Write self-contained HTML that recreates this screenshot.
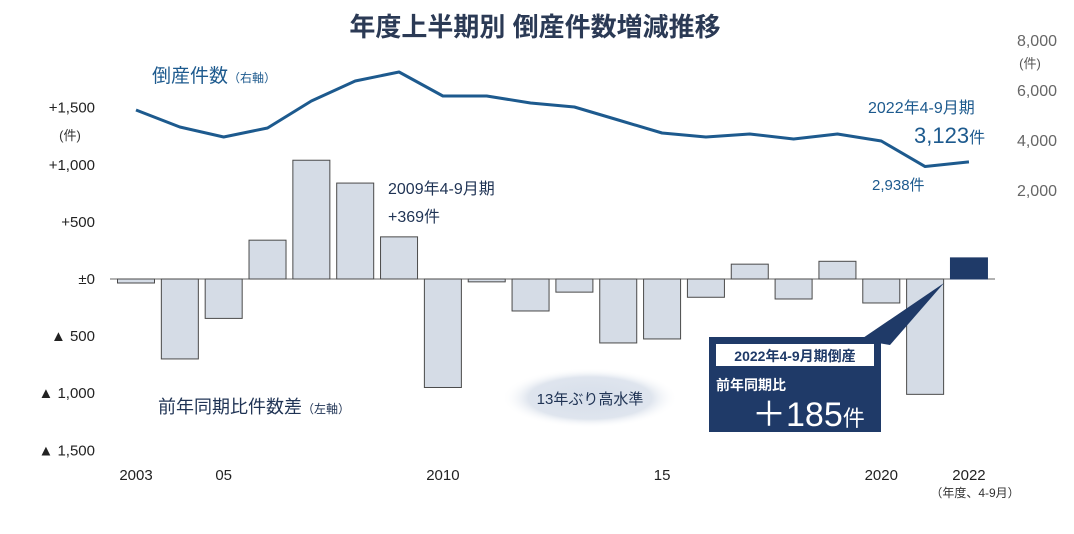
<!DOCTYPE html>
<html><head><meta charset="utf-8">
<style>
body{margin:0;background:#fff;}
svg text{font-family:"Liberation Sans","Noto Sans CJK JP",sans-serif;}
</style></head>
<body>
<svg width="1074" height="529" viewBox="0 0 1074 529" xmlns="http://www.w3.org/2000/svg">
<defs>
<radialGradient id="cloud" cx="50%" cy="50%" r="50%">
<stop offset="0%" stop-color="#d6deea"/><stop offset="70%" stop-color="#dfe5ee"/><stop offset="100%" stop-color="#ffffff" stop-opacity="0"/>
</radialGradient>
</defs>
<text x="535" y="36" text-anchor="middle" font-size="26" font-weight="bold" fill="#2b3a55">年度上半期別  倒産件数増減推移</text>
<g id="leftAxis"></g>
<g id="rightAxis"></g>
<g id="bars"></g>
<g id="line"></g>
<g id="xAxis"></g>
<text x="70" y="140" text-anchor="middle" font-size="13" fill="#333">(件)</text>
<text x="1030" y="68" text-anchor="middle" font-size="13" fill="#555">(件)</text>
<text x="152" y="82" font-size="19" fill="#1d5a8e">倒産件数<tspan font-size="12">（右軸）</tspan></text>
<text x="158" y="413" font-size="18" fill="#1f3354">前年同期比件数差<tspan font-size="12">（左軸）</tspan></text>
<text x="388" y="194" font-size="16" fill="#1f3354">2009年4-9月期</text>
<text x="388" y="222" font-size="16" fill="#1f3354">+369件</text>
<text x="868" y="113" font-size="16" fill="#1d5a8e">2022年4-9月期</text>
<text x="914" y="143" font-size="22" fill="#1d5a8e">3,123<tspan font-size="16">件</tspan></text>
<text x="872" y="190" font-size="15" fill="#1d5a8e">2,938件</text>
<ellipse cx="590" cy="398" rx="88" ry="30" fill="url(#cloud)"/>
<text x="590" y="404" text-anchor="middle" font-size="15" fill="#1f3354">13年ぶり高水準</text>
<polygon points="944,283 860,340 890,345" fill="#1f3a68"/>
<rect x="709" y="337" width="172" height="95" fill="#1f3a68"/>
<rect x="716" y="344" width="158" height="22" fill="#fff"/>
<text x="795" y="361" text-anchor="middle" font-size="14" font-weight="bold" fill="#1f3a68">2022年4-9月期倒産</text>
<text x="716" y="390" font-size="14" font-weight="bold" fill="#fff">前年同期比</text>
<text x="752" y="426" font-size="34" fill="#fff">＋185<tspan font-size="22">件</tspan></text>
<text x="975" y="497" text-anchor="middle" font-size="12" fill="#333">（年度、4-9月）</text>
<script>
const years=[2003,2004,2005,2006,2007,2008,2009,2010,2011,2012,2013,2014,2015,2016,2017,2018,2019,2020,2021,2022];
const diffs=[-35,-700,-345,340,1040,840,369,-950,-25,-280,-115,-560,-525,-160,130,-175,155,-210,-1010,185];
const counts=[5200,4520,4120,4480,5560,6360,6720,5760,5760,5480,5320,4800,4280,4120,4240,4040,4240,3960,2938,3123];
const leftTicks=[1500,1000,500,0,-500,-1000,-1500];
const leftTickLabels=["+1,500","+1,000","+500","±0","▲ 500","▲ 1,000","▲ 1,500"];
const rightTicks=[8000,6000,4000,2000];
const rightTickLabels=["8,000","6,000","4,000","2,000"];
const xLabelYears=[2003,2005,2010,2015,2020,2022];
const xLabels=["2003","05","2010","15","2020","2022"];
const NS="http://www.w3.org/2000/svg";
function X(i){return 136+i*43.84;}
function yL(v){return 279-v*0.1142;}
function yR(v){return 240-v*0.025;}
function mk(t,a,p,txt){const e=document.createElementNS(NS,t);for(const k in a)e.setAttribute(k,a[k]);if(txt!==undefined)e.textContent=txt;p.appendChild(e);return e;}
const bars=document.getElementById('bars');
mk('line',{x1:110,x2:995,y1:yL(0),y2:yL(0),stroke:'#666','stroke-width':1},bars);
diffs.forEach((v,i)=>{
 const last=i===diffs.length-1;
 const y0=yL(0),y1=yL(v);
 const r=mk('rect',{x:X(i)-18.5,y:Math.min(y0,y1),width:37,height:Math.abs(y1-y0),fill:last?'#1f3a68':'#d5dce6',stroke:last?'#1f3a68':'#4a4a4a','stroke-width':1},bars);
 
 
});
const la=document.getElementById('leftAxis');
leftTicks.forEach((v,i)=>{
 const t=mk('text',{x:95,y:yL(v)+5,'text-anchor':'end','font-size':15,fill:'#222'},la,leftTickLabels[i]);
 
 
});
const ra=document.getElementById('rightAxis');
rightTicks.forEach((v,i)=>{
 const t=mk('text',{x:1057,y:yR(v)+6,'text-anchor':'end','font-size':16,fill:'#666'},ra,rightTickLabels[i]);
 
 
});
const lg=document.getElementById('line');
const pts=counts.map((v,i)=>X(i)+','+yR(v)).join(' ');
const pl=mk('polyline',{points:pts,fill:'none',stroke:'#1d5a8e','stroke-width':3,'stroke-linejoin':'round'},lg);


const xa=document.getElementById('xAxis');
xLabelYears.forEach((y,i)=>{
 const t=mk('text',{x:X(years.indexOf(y)),y:480,'text-anchor':'middle','font-size':15,fill:'#222'},xa,xLabels[i]);
 
 
});
</script>
</svg>
</body></html>
